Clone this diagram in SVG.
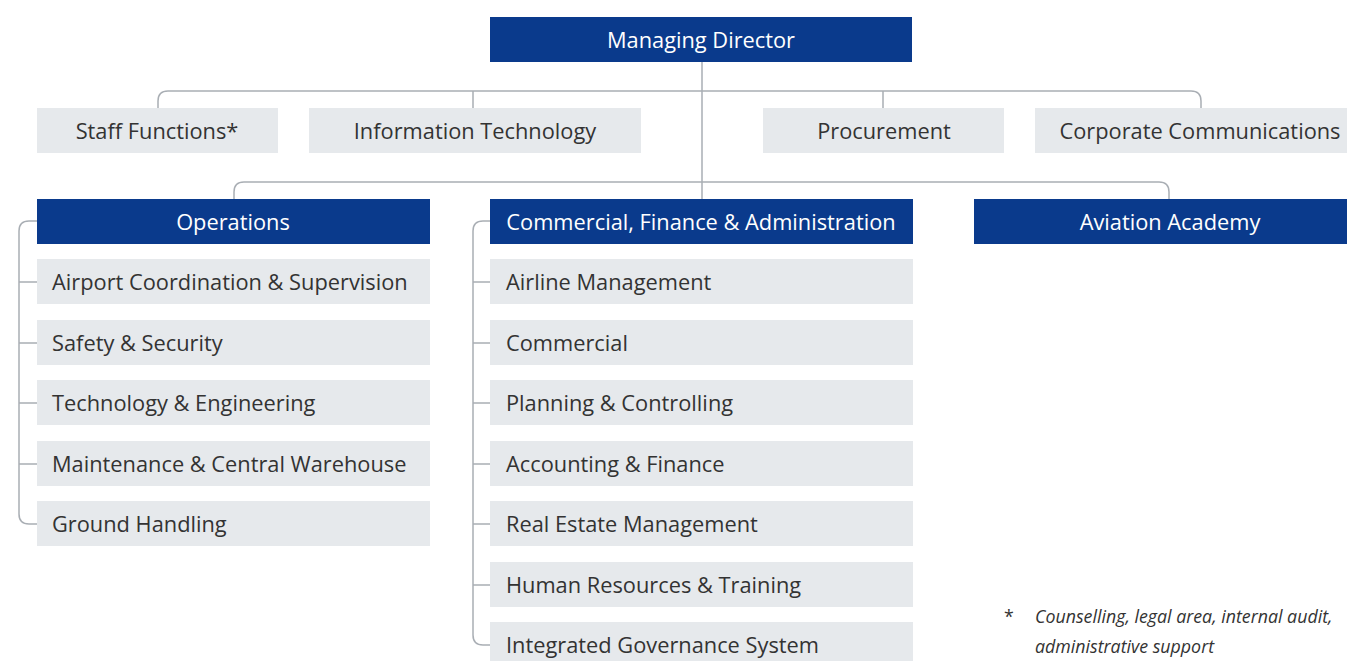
<svg xmlns="http://www.w3.org/2000/svg" width="1347" height="661" viewBox="0 0 1347 661">
<style>
.hd{fill:#0a3a8c}
.bx{fill:#e6e9ec}
.ht{font-family:"Open Sans","Noto Sans",sans-serif;font-size:21.8px;fill:#ffffff;text-anchor:middle}
.t{font-family:"Open Sans","Noto Sans",sans-serif;font-size:21.8px;fill:#333333}
.tc{text-anchor:middle}
.ln{fill:none;stroke:#a9aeb4;stroke-width:1.5}
.fn{font-family:"Open Sans","Noto Sans",sans-serif;font-size:17.8px;fill:#333333;font-style:italic}
</style>
<rect width="1347" height="661" fill="#ffffff"/>
<g id="connectors">
<path class="ln" d="M158,108 V101 Q158,91 168,91 H1191 Q1201,91 1201,101 V108"/>
<path class="ln" d="M473,91 V108 M883,91 V108"/>
<path class="ln" d="M702,62 V199"/>
<path class="ln" d="M234,199 V192 Q234,182 244,182 H1159 Q1169,182 1169,192 V199"/>
<path class="ln" d="M37,221 H29 Q19,221 19,231 V514 Q19,524 29,524 H37 M19,282 H37 M19,343 H37 M19,403 H37 M19,464 H37"/>
<path class="ln" d="M490,221 H483 Q473,221 473,231 V635 Q473,645 483,645 H490 M473,282 H490 M473,343 H490 M473,403 H490 M473,464 H490 M473,524 H490 M473,585 H490"/>
</g>
<g id="md"><rect class="hd" x="490" y="17" width="422" height="45"/><text class="ht" x="701" y="47.5">Managing Director</text></g>
<g id="staff"><rect class="bx" x="37" y="108" width="241" height="45"/><text class="t tc" x="157" y="138.5">Staff Functions*</text></g>
<g id="it"><rect class="bx" x="309" y="108" width="332" height="45"/><text class="t tc" x="475" y="138.5">Information Technology</text></g>
<g id="proc"><rect class="bx" x="763" y="108" width="241" height="45"/><text class="t tc" x="884" y="138.5">Procurement</text></g>
<g id="cc"><rect class="bx" x="1035" y="108" width="330" height="45"/><text class="t tc" x="1200" y="138.5">Corporate Communications</text></g>
<g id="ops"><rect class="hd" x="37" y="199" width="393" height="45"/><text class="ht" x="233" y="229.5">Operations</text></g>
<g id="cfa"><rect class="hd" x="490" y="199" width="423" height="45"/><text class="ht" x="701" y="229.5">Commercial, Finance &amp; Administration</text></g>
<g id="aa"><rect class="hd" x="974" y="199" width="373" height="45"/><text class="ht" x="1170" y="229.5">Aviation Academy</text></g>
<g id="o1"><rect class="bx" x="37" y="259" width="393" height="45"/><text class="t" x="52" y="289.5">Airport Coordination &amp; Supervision</text></g>
<g id="o2"><rect class="bx" x="37" y="320" width="393" height="45"/><text class="t" x="52" y="350.5">Safety &amp; Security</text></g>
<g id="o3"><rect class="bx" x="37" y="380" width="393" height="45"/><text class="t" x="52" y="410.5">Technology &amp; Engineering</text></g>
<g id="o4"><rect class="bx" x="37" y="441" width="393" height="45"/><text class="t" x="52" y="471.5">Maintenance &amp; Central Warehouse</text></g>
<g id="o5"><rect class="bx" x="37" y="501" width="393" height="45"/><text class="t" x="52" y="531.5">Ground Handling</text></g>
<g id="c1"><rect class="bx" x="490" y="259" width="423" height="45"/><text class="t" x="506" y="289.5">Airline Management</text></g>
<g id="c2"><rect class="bx" x="490" y="320" width="423" height="45"/><text class="t" x="506" y="350.5">Commercial</text></g>
<g id="c3"><rect class="bx" x="490" y="380" width="423" height="45"/><text class="t" x="506" y="410.5">Planning &amp; Controlling</text></g>
<g id="c4"><rect class="bx" x="490" y="441" width="423" height="45"/><text class="t" x="506" y="471.5">Accounting &amp; Finance</text></g>
<g id="c5"><rect class="bx" x="490" y="501" width="423" height="45"/><text class="t" x="506" y="531.5">Real Estate Management</text></g>
<g id="c6"><rect class="bx" x="490" y="562" width="423" height="45"/><text class="t" x="506" y="592.5">Human Resources &amp; Training</text></g>
<g id="c7"><rect class="bx" x="490" y="622" width="423" height="45"/><text class="t" x="506" y="652.5">Integrated Governance System</text></g>
<g id="footnote">
<text class="fn" x="1004" y="623" style="font-style:normal">*</text>
<text class="fn" x="1035" y="623">Counselling, legal area, internal audit,</text>
<text class="fn" x="1035" y="653">administrative support</text>
</g>
</svg>
